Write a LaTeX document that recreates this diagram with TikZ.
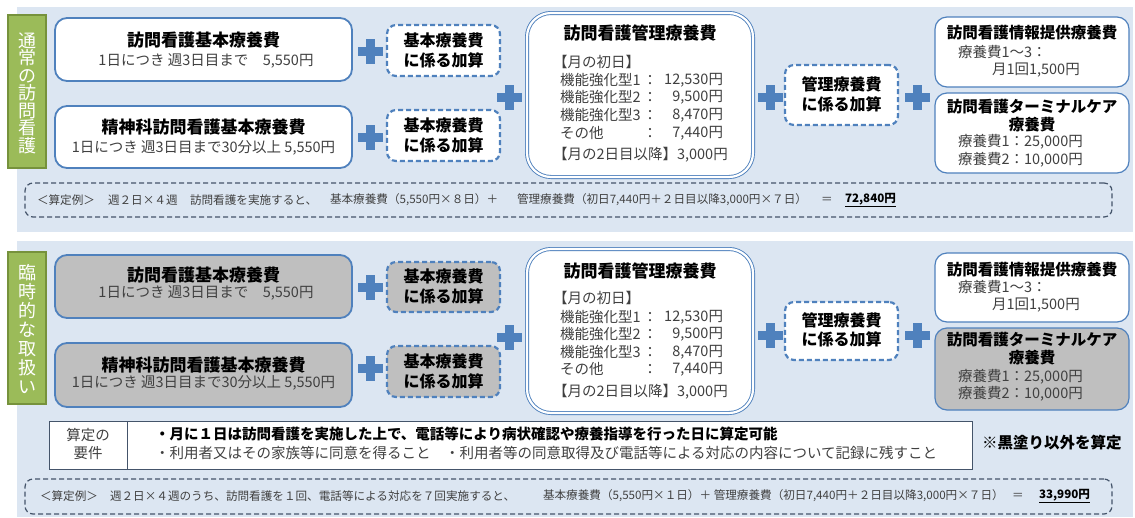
\documentclass[tikz,border=0pt]{standalone}
\usepackage{fontspec}
\setmainfont{Noto Sans CJK JP}
\definecolor{panelbg}{RGB}{220,230,242}
\definecolor{boxblue}{RGB}{79,129,189}
\definecolor{plusblue}{RGB}{79,129,189}
\definecolor{boxgray}{RGB}{191,191,191}
\definecolor{lgreen}{RGB}{155,187,89}
\definecolor{dgreen}{RGB}{118,146,60}
\definecolor{calcblue}{RGB}{68,84,106}
\definecolor{txtgray}{RGB}{64,64,64}
\tikzset{
 every node/.style={inner sep=0pt, outer sep=0pt},
 glabel/.style={draw=dgreen, fill=lgreen, line width=1.5pt},
 gtext/.style={text=white, align=center},
 basebox/.style={draw=boxblue, line width=1.8pt, rounded corners=12pt, fill=white},
 graybox/.style={basebox, fill=boxgray},
 addbox/.style={draw=boxblue, line width=2.2pt, dash pattern=on 5pt off 3pt, rounded corners=9pt, fill=white},
 addgray/.style={addbox, fill=boxgray},
 mgmtbox/.style={draw=boxblue, double=white, double distance=2.2pt, line width=0.9pt, rounded corners=24pt, fill=white},
 infobox/.style={draw=boxblue, line width=1.2pt, rounded corners=12pt, fill=white},
 infogray/.style={infobox, fill=boxgray},
 calcbox/.style={draw=calcblue, line width=1.2pt, dash pattern=on 5pt off 3pt, rounded corners=8pt},
 reqbox/.style={draw=calcblue, line width=1pt, fill=white},
 ttl/.style={font=\fontsize{17}{20}\selectfont\bfseries},
 subtxt/.style={font=\fontsize{14.5}{17}\selectfont, text=txtgray},
 addtxt/.style={font=\fontsize{16}{19}\selectfont\bfseries},
 bodytxt/.style={font=\fontsize{14.5}{17}\selectfont, text=txtgray},
 bodyw/.style={bodytxt, anchor=west},
 bodye/.style={bodytxt, anchor=east},
 rttl/.style={font=\fontsize{15.5}{18}\selectfont\bfseries},
 calctxt/.style={font=\fontsize{11.6}{13}\selectfont, text=txtgray, anchor=west},
 reqtxt/.style={font=\fontsize{14.5}{17}\selectfont, anchor=west},
 pics/plussign/.style={code={
   \fill[plusblue] (-12.5,-4.5) rectangle (12.5,4.5);
   \fill[plusblue] (-4.5,-12.5) rectangle (4.5,12.5);}},
}
\begin{document}
\begin{tikzpicture}[x=1pt,y=-1pt]
\useasboundingbox (0,0) rectangle (1135,517);
% panels
\fill[panelbg] (17,7) rectangle (1133,232);
\fill[panelbg] (17,241) rectangle (1133,517);

%%%%%%%%%%%%%%%% TOP SECTION
\node[glabel, minimum width=38pt, minimum height=153pt] (lab1) at (27,91.5) {};
\node[gtext, font=\fontsize{18}{17.5}\selectfont] (lab1t) at (27,93) {通\\常\\の\\訪\\問\\看\\護};

\node[basebox, minimum width=297pt, minimum height=63pt] (t1) at (203.5,49.5) {};
\node[ttl] (t1a) at (203.5,40) {訪問看護基本療養費};
\node[subtxt] (t1b) at (206,61) {1日につき 週3日目まで　5,550円};

\node[basebox, minimum width=297pt, minimum height=62pt] (t2) at (203.5,137) {};
\node[ttl] (t2a) at (203.5,127) {精神科訪問看護基本療養費};
\node[subtxt] (t2b) at (203.5,148) {1日につき 週3日目まで30分以上 5,550円};

\pic at (370,51) {plussign};
\pic at (370,137) {plussign};

\node[addbox, minimum width=113pt, minimum height=51pt] (ta1) at (443.5,50.5) {};
\node[addtxt] (ta1a) at (443.5,40) {基本療養費};
\node[addtxt] (ta1b) at (443.5,60) {に係る加算};
\node[addbox, minimum width=113pt, minimum height=51pt] (ta2) at (443.5,135.5) {};
\node[addtxt] (ta2a) at (443.5,125) {基本療養費};
\node[addtxt] (ta2b) at (443.5,145) {に係る加算};

\pic at (509,97) {plussign};

\node[mgmtbox, minimum width=226pt, minimum height=164pt] (tm) at (640,95) {};
\node[ttl] (tma) at (640,33) {訪問看護管理療養費};
\node[bodyw] (tm1) at (553,62) {【月の初日】};
\node[bodyw] (tm2l) at (560,80) {機能強化型1};
\node[bodytxt] (tm2c) at (650,80) {：};
\node[bodye] (tm2n) at (723,80) {12,530円};
\node[bodyw] (tm3l) at (560,97.5) {機能強化型2};
\node[bodytxt] (tm3c) at (650,97.5) {：};
\node[bodye] (tm3n) at (723,97.5) {9,500円};
\node[bodyw] (tm4l) at (560,115) {機能強化型3};
\node[bodytxt] (tm4c) at (650,115) {：};
\node[bodye] (tm4n) at (723,115) {8,470円};
\node[bodyw] (tm5l) at (560,133) {その他};
\node[bodytxt] (tm5c) at (650,133) {：};
\node[bodye] (tm5n) at (723,133) {7,440円};
\node[bodyw] (tm6) at (553,155) {【月の2日目以降】3,000円};

\pic at (770,97) {plussign};

\node[addbox, minimum width=113pt, minimum height=60pt] (tk) at (841.5,95) {};
\node[addtxt] (tka) at (841.5,84) {管理療養費};
\node[addtxt] (tkb) at (841.5,104) {に係る加算};

\pic at (917,97) {plussign};

\node[infobox, minimum width=194pt, minimum height=70pt] (tr1) at (1032,52) {};
\node[rttl] (tr1a) at (1032,33) {訪問看護情報提供療養費};
\node[bodyw] (tr1b) at (958,52) {療養費1〜3：};
\node[bodyw] (tr1c) at (992,70) {月1回1,500円};

\node[infobox, minimum width=194pt, minimum height=80pt] (tr2) at (1032,133) {};
\node[rttl] (tr2a) at (1032,107) {訪問看護ターミナルケア};
\node[rttl] (tr2b) at (1032,125) {療養費};
\node[bodyw] (tr2c) at (958,142) {療養費1：25,000円};
\node[bodyw] (tr2d) at (958,160) {療養費2：10,000円};

\node[calcbox, minimum width=1087pt, minimum height=34pt] (tc) at (568.5,200) {};
\node[calctxt] (tc1) at (37,200) {＜算定例＞};
\node[calctxt] (tc2) at (108,200) {週２日×４週};
\node[calctxt] (tc3) at (190,200) {訪問看護を実施すると、};
\node[calctxt] (tc4) at (330,200) {基本療養費（5,550円×８日）＋};
\node[calctxt] (tc5) at (517,200) {管理療養費（初日7,440円＋２日目以降3,000円×７日）};
\node[calctxt] (tc6) at (821,200) {＝};
\node[calctxt, text=black] (tc7) at (845,200) {\bfseries\underline{72,840円}};

%%%%%%%%%%%%%%%% BOTTOM SECTION
\node[glabel, minimum width=38pt, minimum height=152pt] (lab2) at (27,328) {};
\node[gtext, font=\fontsize{18}{19}\selectfont] (lab2t) at (27,329) {臨\\時\\的\\な\\取\\扱\\い};

\node[graybox, minimum width=297pt, minimum height=63pt] (b1) at (203.5,286.5) {};
\node[ttl] (b1a) at (203.5,275) {訪問看護基本療養費};
\node[subtxt] (b1b) at (206,293) {1日につき 週3日目まで　5,550円};

\node[graybox, minimum width=297pt, minimum height=64pt] (b2) at (203.5,375) {};
\node[ttl] (b2a) at (203.5,365) {精神科訪問看護基本療養費};
\node[subtxt] (b2b) at (203.5,383) {1日につき 週3日目まで30分以上 5,550円};

\pic at (370,287) {plussign};
\pic at (370,368) {plussign};

\node[addgray, minimum width=113pt, minimum height=50pt] (ba1) at (443.5,287) {};
\node[addtxt] (ba1a) at (443.5,276) {基本療養費};
\node[addtxt] (ba1b) at (443.5,296) {に係る加算};
\node[addgray, minimum width=113pt, minimum height=51pt] (ba2) at (443.5,371.5) {};
\node[addtxt] (ba2a) at (443.5,361) {基本療養費};
\node[addtxt] (ba2b) at (443.5,381) {に係る加算};

\pic at (509,337) {plussign};

\node[mgmtbox, minimum width=226pt, minimum height=164pt] (bm) at (640,331) {};
\node[ttl] (bma) at (640,271) {訪問看護管理療養費};
\node[bodyw] (bm1) at (553,298) {【月の初日】};
\node[bodyw] (bm2l) at (560,317) {機能強化型1};
\node[bodytxt] (bm2c) at (650,317) {：};
\node[bodye] (bm2n) at (723,317) {12,530円};
\node[bodyw] (bm3l) at (560,334.5) {機能強化型2};
\node[bodytxt] (bm3c) at (650,334.5) {：};
\node[bodye] (bm3n) at (723,334.5) {9,500円};
\node[bodyw] (bm4l) at (560,352) {機能強化型3};
\node[bodytxt] (bm4c) at (650,352) {：};
\node[bodye] (bm4n) at (723,352) {8,470円};
\node[bodyw] (bm5l) at (560,369) {その他};
\node[bodytxt] (bm5c) at (650,369) {：};
\node[bodye] (bm5n) at (723,369) {7,440円};
\node[bodyw] (bm6) at (553,392) {【月の2日目以降】3,000円};

\pic at (770,335) {plussign};

\node[addbox, minimum width=113pt, minimum height=58pt] (bk) at (841.5,331) {};
\node[addtxt] (bka) at (841.5,320) {管理療養費};
\node[addtxt] (bkb) at (841.5,339) {に係る加算};

\pic at (917,335) {plussign};

\node[infobox, minimum width=194pt, minimum height=69pt] (br1) at (1032,287.5) {};
\node[rttl] (br1a) at (1032,270) {訪問看護情報提供療養費};
\node[bodyw] (br1b) at (958,287) {療養費1〜3：};
\node[bodyw] (br1c) at (992,305) {月1回1,500円};

\node[infogray, minimum width=194pt, minimum height=82pt] (br2) at (1032,369) {};
\node[rttl] (br2a) at (1032,340) {訪問看護ターミナルケア};
\node[rttl] (br2b) at (1032,358) {療養費};
\node[bodyw] (br2c) at (958,377) {療養費1：25,000円};
\node[bodyw] (br2d) at (958,394) {療養費2：10,000円};

% requirements table
\node[reqbox, minimum width=78pt, minimum height=48pt] (rq1) at (88,445) {};
\node[bodytxt, align=center, font=\fontsize{14.5}{18}\selectfont] (rq1t) at (88,444) {算定の\\要件};
\node[reqbox, minimum width=845pt, minimum height=48pt] (rq2) at (549.5,445) {};
\node[reqtxt, font=\fontsize{14.5}{17}\selectfont\bfseries] (rq2a) at (155,434) {・月に１日は訪問看護を実施した上で、電話等により病状確認や療養指導を行った日に算定可能};
\node[reqtxt, text=txtgray] (rq2b) at (155,453) {・利用者又はその家族等に同意を得ること　・利用者等の同意取得及び電話等による対応の内容について記録に残すこと};
\node[anchor=west, font=\fontsize{15.5}{18}\selectfont\bfseries] (note) at (982,443) {※黒塗り以外を算定};

\node[calcbox, minimum width=1087pt, minimum height=35pt] (bc) at (568.5,496.5) {};
\node[calctxt] (bc1) at (40,496) {＜算定例＞};
\node[calctxt] (bc2) at (110,496) {週２日×４週のうち、訪問看護を１回、電話等による対応を７回実施すると、};
\node[calctxt] (bc3) at (543,496) {基本療養費（5,550円×１日）＋ 管理療養費（初日7,440円＋２日目以降3,000円×７日）};
\node[calctxt] (bc4) at (1012,496) {＝};
\node[calctxt, text=black] (bc5) at (1039,496) {\bfseries\underline{33,990円}};
\end{tikzpicture}
\end{document}
